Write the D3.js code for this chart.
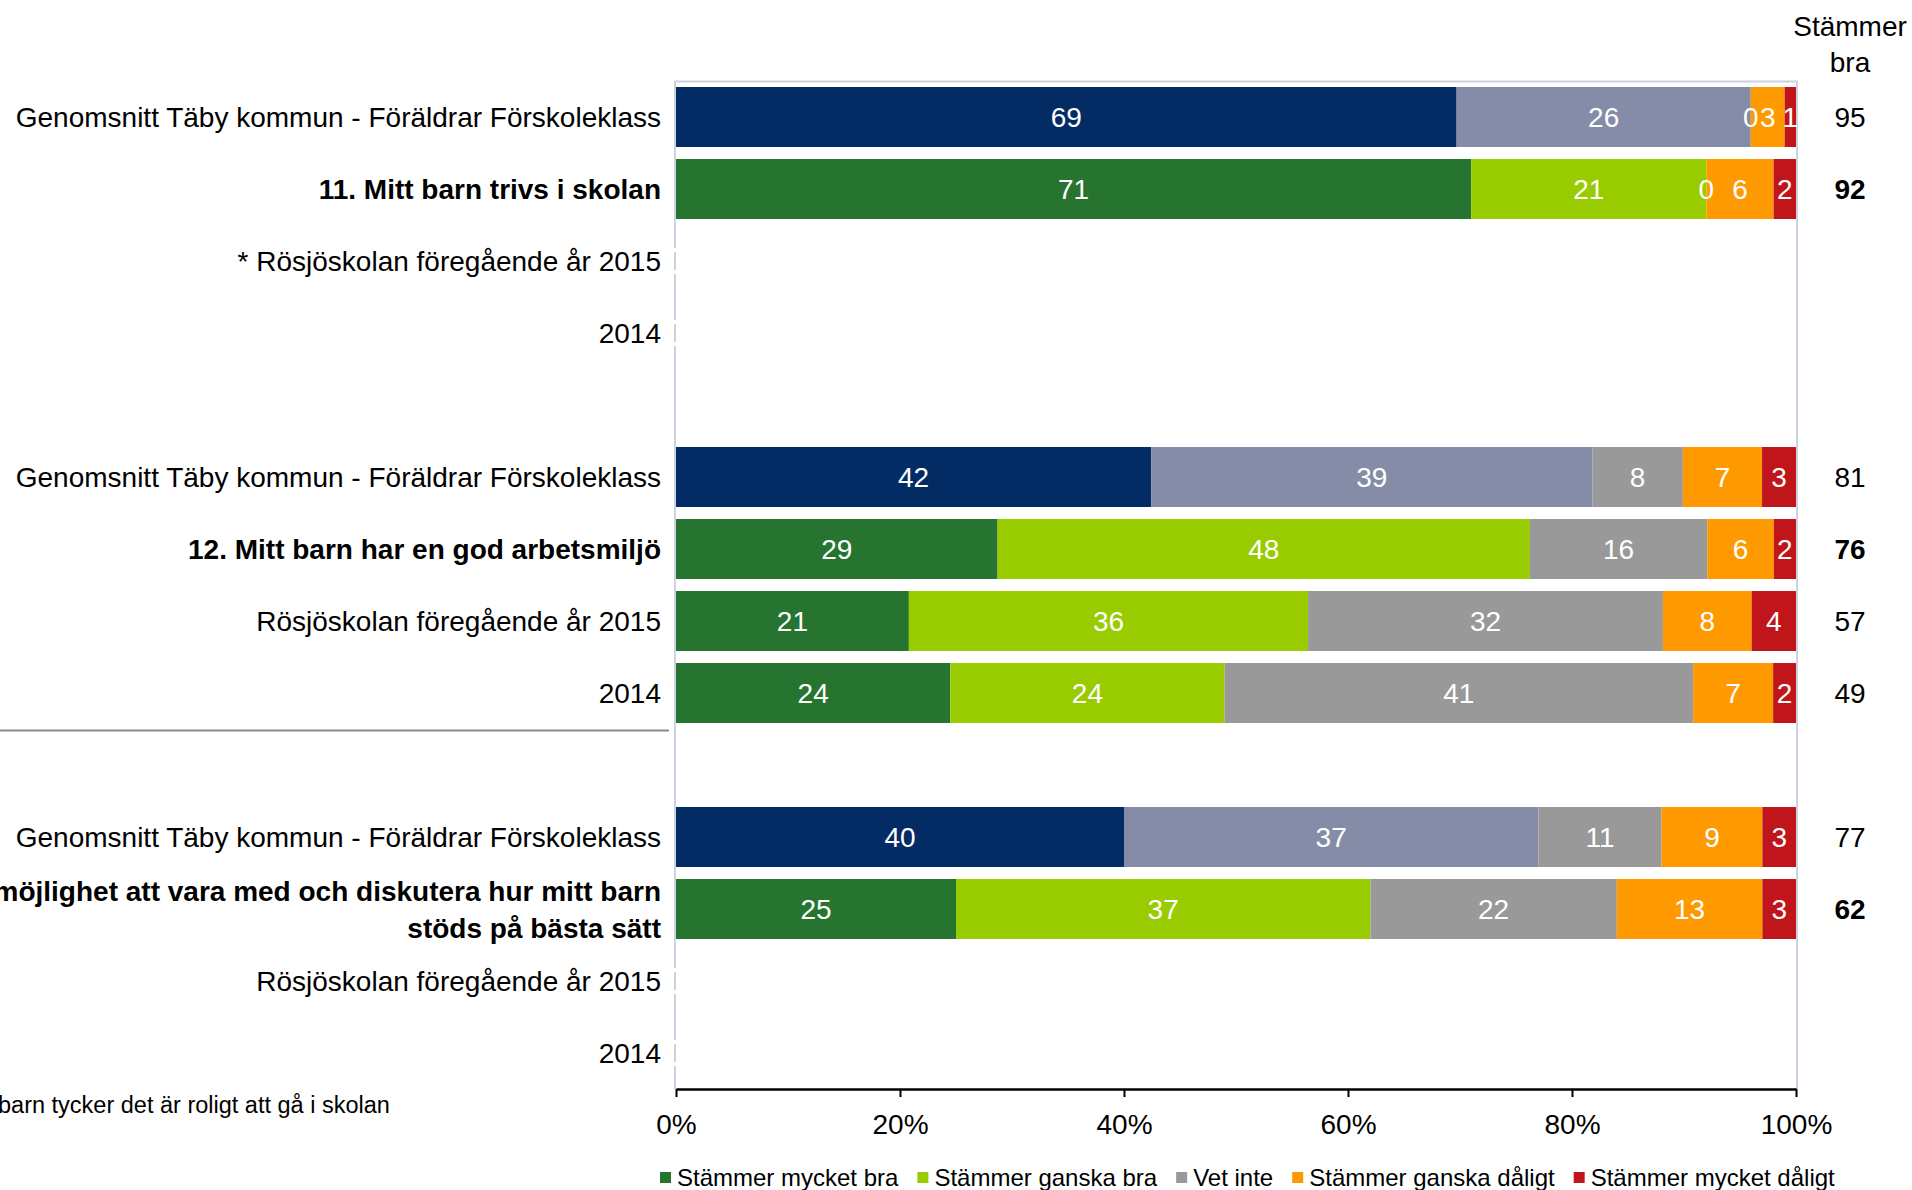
<!DOCTYPE html>
<html>
<head>
<meta charset="utf-8">
<script src="https://cdn.jsdelivr.net/npm/d3@7"></script>
<style>
  body { margin: 0; background: #fff; }
  svg { display: block; font-family: "Liberation Sans", Arial, sans-serif; }
</style>
</head>
<body>
<svg id="chart" width="1912" height="1190"></svg>
<script>
// row labels, top to bottom ("" = spacer row between questions)
const rowLabels = [
  "Genomsnitt Täby kommun - Föräldrar Förskoleklass",
  "11. Mitt barn trivs i skolan",
  "* Rösjöskolan föregående år 2015",
  "2014",
  "",
  "Genomsnitt Täby kommun - Föräldrar Förskoleklass",
  "12. Mitt barn har en god arbetsmiljö",
  "Rösjöskolan föregående år 2015",
  "2014",
  "",
  "Genomsnitt Täby kommun - Föräldrar Förskoleklass",
  "möjlighet att vara med och diskutera hur mitt barn|stöds på bästa sätt",
  "Rösjöskolan föregående år 2015",
  "2014"
];
// avg = kommun average, q = question row (bold), prev = earlier years
const rowKinds = ["avg", "q", "prev", "prev", "", "avg", "q", "prev", "prev", "", "avg", "q", "prev", "prev"];

// percentages per answer (null = no data)
const mycketBra    = [69, 71, null, null, null, 42, 29, 21, 24, null, 40, 25, null, null];
const ganskaBra    = [26, 21, null, null, null, 39, 48, 36, 24, null, 37, 37, null, null];
const vetInte      = [0, 0, null, null, null, 8, 16, 32, 41, null, 11, 22, null, null];
const ganskaDaligt = [3, 6, null, null, null, 7, 6, 8, 7, null, 9, 13, null, null];
const mycketDaligt = [1, 2, null, null, null, 3, 2, 4, 2, null, 3, 3, null, null];
const stammerBra   = [95, 92, null, null, null, 81, 76, 57, 49, null, 77, 62, null, null];

const seriesNames = ["Stämmer mycket bra", "Stämmer ganska bra", "Vet inte", "Stämmer ganska dåligt", "Stämmer mycket dåligt"];
const seriesColors = ["#277430", "#99cc00", "#999999", "#ff9900", "#c0151a"];
const avgColors = ["#032b64", "#848ca8"];
const xTicks = [0, 0.2, 0.4, 0.6, 0.8, 1];

const keys = ["mycketBra", "ganskaBra", "vetInte", "ganskaDaligt", "mycketDaligt"];
const cols = [mycketBra, ganskaBra, vetInte, ganskaDaligt, mycketDaligt];
const table = [];
rowLabels.forEach((l, i) => {
  if (mycketBra[i] == null) return;
  const r = { row: i };
  keys.forEach((k, j) => r[k] = cols[j][i]);
  table.push(r);
});

const svg = d3.select("#chart");
const font = 28;

const x = d3.scaleLinear().domain([0, 1]).range([676, 1796]);
const y = d3.scaleBand().domain(d3.range(rowLabels.length)).range([81, 1089])
  .paddingInner(0.167).paddingOuter(0.0835);

// plot frame (light)
svg.append("path")
  .attr("d", `M675,1089V81.5H1797V1089`)
  .attr("fill", "none").attr("stroke", "#ccd1df").attr("stroke-width", 2);

// stacked bars
const stacked = d3.stack().keys(keys).offset(d3.stackOffsetExpand)(table);
const bars = svg.append("g");
stacked.forEach((s, si) => {
  bars.append("g").selectAll("rect").data(s).join("rect")
    .attr("x", d => x(d[0]))
    .attr("y", d => y(d.data.row))
    .attr("width", d => x(d[1]) - x(d[0]))
    .attr("height", y.bandwidth())
    .attr("fill", d => (rowKinds[d.data.row] === "avg" && si < 2) ? avgColors[si] : seriesColors[si]);
});
// value labels on top of all segments
const vals = svg.append("g");
stacked.forEach(s => {
  vals.append("g").selectAll("text").data(s).join("text")
    .attr("x", d => (x(d[0]) + x(d[1])) / 2)
    .attr("y", d => y(d.data.row) + y.bandwidth() / 2 + 10)
    .attr("text-anchor", "middle")
    .attr("fill", "#fff")
    .attr("font-size", font)
    .text(d => d.data[s.key]);
});

// small white marks on the axis for empty year rows
rowLabels.forEach((l, i) => {
  if (rowKinds[i] !== "prev" || mycketBra[i] != null) return;
  const c = y(i) + y.bandwidth() / 2;
  [-11, 11].forEach(o => svg.append("rect")
    .attr("x", 674).attr("y", c + o - 2).attr("width", 3).attr("height", 4).attr("fill", "#fff"));
});

// category labels
const labels = svg.append("g").attr("text-anchor", "end").attr("font-size", font).attr("fill", "#000");
rowLabels.forEach((l, i) => {
  if (!l) return;
  const c = y(i) + y.bandwidth() / 2;
  const lines = l.split("|");
  const t = labels.append("text")
    .attr("font-weight", rowKinds[i] === "q" ? "bold" : "normal");
  lines.forEach((ln, k) => {
    t.append("tspan").attr("x", 661)
      .attr("y", c + 10 + (k - (lines.length - 1) / 2) * 37)
      .text(ln);
  });
});

// separator line on the left
svg.append("line").attr("x1", 0).attr("x2", 669).attr("y1", 730.5).attr("y2", 730.5)
  .attr("stroke", "#8c8c8c").attr("stroke-width", 2);

// "Stämmer bra" column
svg.append("text").attr("x", 1850).attr("y", 36).attr("text-anchor", "middle")
  .attr("font-size", font).text("Stämmer");
svg.append("text").attr("x", 1850).attr("y", 72).attr("text-anchor", "middle")
  .attr("font-size", font).text("bra");
svg.append("g").selectAll("text").data(table).join("text")
  .attr("x", 1850)
  .attr("y", d => y(d.row) + y.bandwidth() / 2 + 10)
  .attr("text-anchor", "middle")
  .attr("font-size", font)
  .attr("font-weight", d => rowKinds[d.row] === "q" ? "bold" : "normal")
  .text(d => stammerBra[d.row]);

// x axis
const ax = svg.append("g").attr("transform", "translate(0,1089)")
  .call(d3.axisBottom(x).tickValues(xTicks).tickFormat(d3.format(".0%"))
    .tickSize(8).tickSizeOuter(0).tickPadding(17));
ax.select(".domain").attr("stroke", "#000").attr("stroke-width", 2.5);
ax.selectAll(".tick line").attr("stroke", "#000").attr("stroke-width", 2);
ax.selectAll(".tick text").attr("font-size", font).attr("fill", "#000")
  .attr("font-family", "Liberation Sans, Arial, sans-serif");

// footnote (cut at the left edge, as in the original)
svg.append("text").attr("x", -2).attr("y", 1113).attr("font-size", 23.5)
  .text("barn tycker det är roligt att gå i skolan");

// legend
const leg = svg.append("g");
let lx = 660;
seriesNames.forEach((n, i) => {
  leg.append("rect").attr("x", lx).attr("y", 1172).attr("width", 11).attr("height", 11)
    .attr("fill", seriesColors[i]);
  const t = leg.append("text").attr("x", lx + 17).attr("y", 1186).attr("font-size", 24).text(n);
  lx += 17 + t.node().getComputedTextLength() + 19;
});
</script>
</body>
</html>
